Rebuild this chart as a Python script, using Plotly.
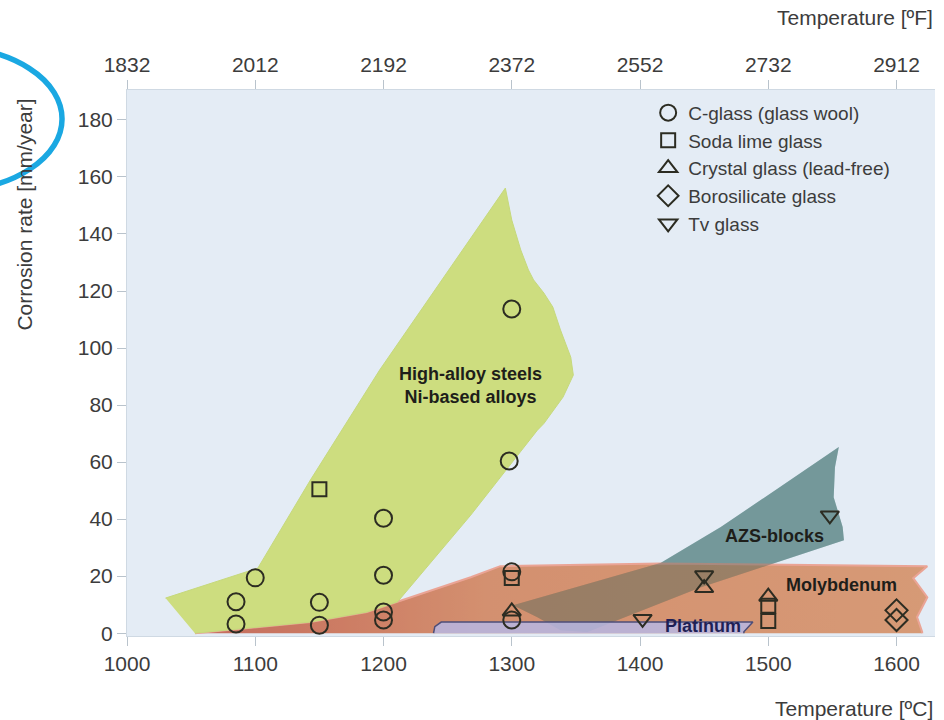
import plotly.graph_objects as go

# Axis ticks: temperature in °C (bottom) with the same positions labelled in °F (top)
celsius_ticks = [1000, 1100, 1200, 1300, 1400, 1500, 1600]
fahrenheit_labels = ["1832", "2012", "2192", "2372", "2552", "2732", "2912"]
rate_ticks = [0, 20, 40, 60, 80, 100, 120, 140, 160, 180]

# Measured corrosion rates (mm/year) by glass type
cglass_temp = [1085, 1085, 1100, 1150, 1150, 1200, 1200, 1200, 1200, 1300, 1298, 1300, 1300]
cglass_rate = [3.2, 11, 19.4, 2.8, 10.8, 4.6, 7.4, 20.3, 40.3, 4.6, 60.4, 21.5, 113.7]

sodalime_temp = [1150, 1300, 1500, 1500]
sodalime_rate = [50.5, 19.3, 9.6, 4.3]

crystal_temp = [1300, 1450, 1500]
crystal_rate = [7.6, 15.8, 12.8]

borosilicate_temp = [1600, 1600]
borosilicate_rate = [8.0, 4.6]

tv_temp = [1402, 1450, 1548]
tv_rate = [5.0, 20.3, 41.3]

# Material working regions (polygon outlines, °C vs mm/year)
alloy_temp = [1030, 1102, 1143, 1197, 1295, 1300, 1307, 1313, 1317, 1325, 1332,
              1338, 1346, 1348, 1340, 1325, 1320, 1268, 1211, 1187, 1143, 1053]
alloy_rate = [12.3, 22.8, 53.7, 92.3, 156.1, 144.9, 134.4, 127.4, 123.9, 119.3, 114.4,
              106.3, 96.8, 90.5, 82.8, 73.5, 71.2, 41.4, 11.0, 7.4, 3.9, 0]

moly_temp = [1053, 1143, 1187, 1268, 1291, 1416, 1624, 1613, 1624, 1616, 1620, 1620]
moly_rate = [0, 3.9, 7.4, 19.6, 23.5, 24.4, 23.5, 19.3, 12.6, 5.6, 0.4, 0]

azs_temp = [1301, 1320, 1338, 1359, 1447, 1559, 1558, 1555, 1551, 1552, 1555, 1463, 1416]
azs_rate = [9.8, 5.6, 1.0, 0.4, 16.0, 32.6, 37.2, 42.1, 47.7, 58.2, 65.3, 37.2, 24.6]

platinum_temp = [1239, 1240, 1245, 1488, 1481, 1481]
platinum_rate = [0, 2.3, 3.9, 3.9, 0.5, 0]

TEXT = "#3c3c3c"
FONT = "Liberation Sans, Arial, sans-serif"
MARK = "#2c2c22"
AZS = "rgb(116,153,154)"

fig = go.Figure()

region = dict(mode="lines", fill="toself", hoverinfo="skip", showlegend=False)

# AZS body, then the translucent molybdenum band, then a light AZS wash over the overlap
fig.add_trace(go.Scatter(x=azs_temp, y=azs_rate, fillcolor=AZS, line=dict(width=0), **region))
fig.add_trace(go.Scatter(x=moly_temp, y=moly_rate, opacity=0.62,
                         fillgradient=dict(type="horizontal",
                                           colorscale=[[0, "rgb(176,30,2)"], [0.2, "rgb(191,57,12)"],
                                                       [0.4, "rgb(202,89,31)"], [1, "rgb(207,104,41)"]]),
                         line=dict(color="rgb(239,121,92)", width=2), **region))
fig.add_trace(go.Scatter(x=azs_temp, y=azs_rate, fillcolor="rgba(116,153,154,0.3)",
                         line=dict(width=0), **region))
fig.add_trace(go.Scatter(x=platinum_temp, y=platinum_rate, fillcolor="rgba(182,184,232,0.82)",
                         line=dict(color="#4e4e78", width=1.5), **region))
fig.add_trace(go.Scatter(x=alloy_temp, y=alloy_rate, fillcolor="#cddd7f",
                         line=dict(color="#c6d97c", width=1), **region))

series = [
    ("C-glass (glass wool)", cglass_temp, cglass_rate, "circle-open", 17),
    ("Soda lime glass", sodalime_temp, sodalime_rate, "square-open", 14),
    ("Crystal glass (lead-free)", crystal_temp, crystal_rate, "triangle-up-open", 16),
    ("Borosilicate glass", borosilicate_temp, borosilicate_rate, "diamond-open", 17),
    ("Tv glass", tv_temp, tv_rate, "triangle-down-open", 16),
]
for name, xs, ys, sym, size in series:
    fig.add_trace(go.Scatter(x=xs, y=ys, mode="markers", name=name,
                             marker=dict(symbol=sym, size=size, color=MARK,
                                         line=dict(width=2, color=MARK))))

# carrier trace so the °F axis is drawn on top
fig.add_trace(go.Scatter(x=[celsius_ticks[0]], y=[None], xaxis="x2", mode="markers",
                         showlegend=False, hoverinfo="skip"))

axis_common = dict(ticks="outside", ticklen=9, tickcolor="#b9c3cc", tickwidth=1,
                   showgrid=False, zeroline=False, showline=True, linecolor="#cfd9e3",
                   linewidth=1, tickfont=dict(size=21, color=TEXT, family=FONT))

fig.update_layout(
    width=944, height=720, autosize=False,
    margin=dict(l=127, r=9, t=90, b=84),
    paper_bgcolor="white", plot_bgcolor="#e4ecf5",
    font=dict(family=FONT, color=TEXT),
    xaxis=dict(range=[1000, 1630], tickvals=celsius_ticks, **axis_common),
    xaxis2=dict(range=[1000, 1630], overlaying="x", side="top", tickvals=celsius_ticks,
                ticktext=fahrenheit_labels, **axis_common),
    yaxis=dict(range=[-1, 190.5], tickvals=rate_ticks, **axis_common),
    legend=dict(x=0.645, y=0.993, xanchor="left", yanchor="top",
                bgcolor="rgba(0,0,0,0)", font=dict(size=19, color=TEXT, family=FONT),
                itemsizing="trace"),
    showlegend=True,
)

bold = dict(family=FONT, size=18, color="#1e1e1a")
fig.add_annotation(x=1268, y=86.7, text="<b>High-alloy steels<br>Ni-based alloys</b>",
                   showarrow=False, font=bold)
fig.add_annotation(x=1505, y=34, text="<b>AZS-blocks</b>", showarrow=False, font=bold)
fig.add_annotation(x=1557, y=16.8, text="<b>Molybdenum</b>", showarrow=False, font=bold)
fig.add_annotation(x=1449, y=2.6, text="<b>Platinum</b>", showarrow=False,
                   font=dict(family=FONT, size=18, color="#1f1f55"))

# axis titles
fig.add_annotation(xref="paper", yref="paper", x=1, y=1.132, xanchor="right", yanchor="middle",
                   text="Temperature [ºF]", showarrow=False, font=dict(size=21, color=TEXT))
fig.add_annotation(xref="paper", yref="paper", x=1, y=-0.132, xanchor="right", yanchor="middle",
                   text="Temperature [ºC]", showarrow=False, font=dict(size=21, color=TEXT))
fig.add_annotation(xref="paper", yref="paper", x=-0.128, y=0.771, textangle=-90,
                   xanchor="center", yanchor="middle",
                   text="Corrosion rate [mm/year]", showarrow=False, font=dict(size=21, color=TEXT))

# highlight ring around the y-axis unit
fig.add_shape(type="circle", xref="paper", yref="paper",
              x0=-0.3577, x1=-0.0804, y0=0.816, y1=1.078,
              line=dict(color="#1aa8e2", width=5.5), layer="above")

fig.write_html("out.html")
